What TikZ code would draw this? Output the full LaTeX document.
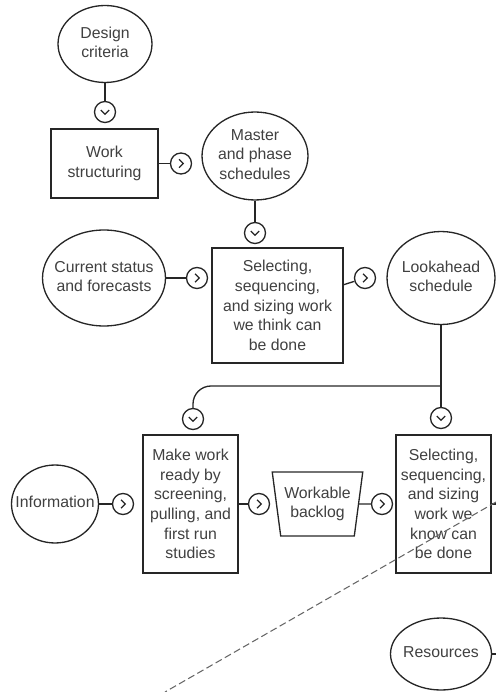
\documentclass[tikz,border=0pt]{standalone}
\usepackage{fontspec}
\setmainfont{Liberation Sans}
\usetikzlibrary{shapes.geometric}

% text of an ellipse, kept out of the shape's size
\newcommand{\elltext}[1]{\makebox[0pt]{\begin{tabular}{@{}c@{}}#1\end{tabular}}}

\begin{document}
\begin{tikzpicture}[x=0.02cm, y=-0.02cm, line width=0.75pt, color=black!85,
        every node/.style={font=\fontsize{9}{11.2}\selectfont, text=black!75},
        ell/.style={ellipse, draw, inner sep=0pt},
        box/.style={rectangle, draw, align=center, inner sep=2pt},
        gate/.style={circle, draw, minimum size=4.2mm, inner sep=0pt},
        gateright/.style={gate, path picture={\draw ([shift={(-1.1pt,2.4pt)}]path picture bounding box.center) -- ++(2.4pt,-2.4pt) -- ++(-2.4pt,-2.4pt);}},
        gatedown/.style={gate, path picture={\draw ([shift={(-2.4pt,1.1pt)}]path picture bounding box.center) -- ++(2.4pt,-2.4pt) -- ++(2.4pt,2.4pt);}}]
        \useasboundingbox (0,0) rectangle (496,692);

        \begin{scope}
                \node [ell, minimum width=1.88cm, minimum height=1.54cm] (D) at (105,44) {\elltext{Design\\criteria}};
                \node [gatedown] (gD) at (105,112) {};
                \node [box, minimum width=2.14cm, minimum height=1.38cm] (W) at (104.5,163.5) {Work\\structuring};
                \node [gateright] (gW) at (181,163.5) {};
                \node [ell, minimum width=2.12cm, minimum height=1.76cm] (M) at (255,156) {\elltext{Master\\and phase\\schedules}};
                \node [gatedown] (gM) at (255,233) {};
                \node [ell, minimum width=2.46cm, minimum height=1.92cm] (C) at (104,278) {\elltext{Current status\\and forecasts}};
                \node [gateright] (gC) at (197,278) {};
                \node [box, minimum width=2.62cm, minimum height=2.3cm] (S1) at (277.5,305.5) {Selecting,\\sequencing,\\and sizing work\\we think can\\be done};
                \node [gateright] (gS1) at (365,278) {};
                \node [ell, minimum width=2.16cm, minimum height=1.86cm] (L) at (441,278) {\elltext{Lookahead\\schedule}};
                \coordinate (J) at (441,386);
                \node [gatedown] (gJ1) at (193,419) {};
                \node [gatedown] (gJ2) at (441,418) {};
                \node [ell, minimum width=1.74cm, minimum height=1.56cm] (I) at (55,504) {\elltext{Information}};
                \node [gateright] (gI) at (123,504) {};
                \node [box, minimum width=1.9cm, minimum height=2.76cm] (R) at (190.5,504) {Make work\\ready by\\screening,\\pulling, and\\first run\\studies};
                \node [gateright] (gR) at (259,504) {};
                \node [trapezium, draw, align=center, trapezium angle=78, shape border rotate=180, trapezium stretches=true, minimum width=1.82cm, minimum height=1.28cm, inner sep=1pt] (B) at (317.5,504) {Workable\\backlog};
                \node [gateright] (gB) at (382,504) {};
                \node [box, minimum width=1.9cm, minimum height=2.76cm] (S2) at (443.5,504) {Selecting,\\sequencing,\\and sizing\\work we\\know can\\be done};
                \coordinate (S2out) at (496,504);
                \node [ell, minimum width=2.02cm, minimum height=1.44cm] (Rs) at (441,654) {\elltext{Resources}};
                \coordinate (Rsout) at (496,654);
                \coordinate (cut1) at (496,502);
                \coordinate (cut2) at (165,692);
        \end{scope}

        \begin{scope}
                \path (D) edge (gD);
                \path (W) edge (gW);
                \path (M) edge (gM);
                \path (C) edge (gC);
                \path (S1) edge (gS1);
                \draw (L) -- (J) -- (gJ2);
                \draw [rounded corners=0.36cm] (J) -| (gJ1);
                \path (I) edge (gI);
                \path (R) edge (gR);
                \path (B) edge (gB);
                \draw (S2) -- (S2out);
                \draw (Rs) -- (Rsout);
                \draw [black!60, line width=0.6pt, dash pattern=on 4pt off 2pt] (cut1) -- (cut2);
        \end{scope}
\end{tikzpicture}
\end{document}
